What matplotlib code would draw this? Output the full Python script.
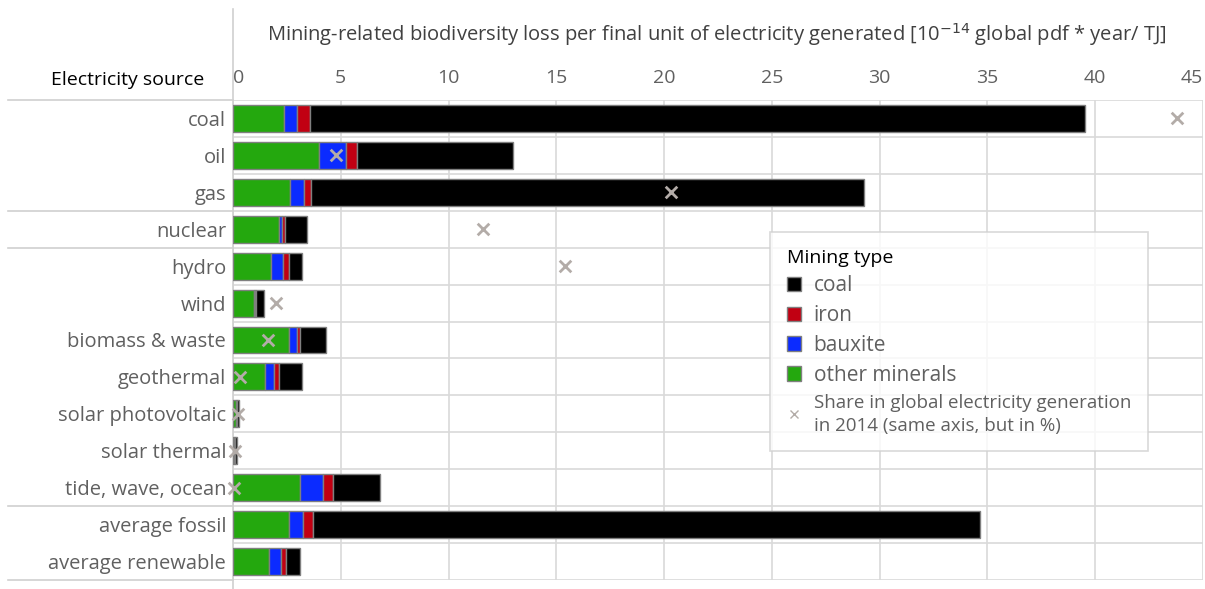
import matplotlib.pyplot as plt
import matplotlib.patches as mpatches
from matplotlib.lines import Line2D
import numpy as np

plt.rcParams['font.family'] = ['Open Sans', 'DejaVu Sans']

sources = ["coal", "oil", "gas", "nuclear", "hydro", "wind", "biomass & waste",
           "geothermal", "solar photovoltaic", "solar thermal", "tide, wave, ocean",
           "average fossil", "average renewable"]

# segment lengths [10^-14 global pdf * year / TJ]
other_minerals = [2.38, 4.00, 2.63, 2.15, 1.75, 0.99, 2.58, 1.50, 0.15, 0.05, 3.09, 2.58, 1.68]
bauxite = [0.60, 1.24, 0.65, 0.11, 0.58, 0.03, 0.39, 0.42, 0.02, 0.01, 1.10, 0.65, 0.56]
iron = [0.58, 0.51, 0.32, 0.15, 0.25, 0.06, 0.15, 0.23, 0.02, 0.01, 0.46, 0.47, 0.20]
coal_mining = [35.96, 7.22, 25.67, 1.04, 0.62, 0.37, 1.18, 1.05, 0.10, 0.10, 2.15, 30.95, 0.65]

# share in global electricity generation 2014 [%]
share = [43.8, 4.78, 20.3, 11.6, 15.4, 2.0, 1.62, 0.32, 0.25, 0.08, 0.05, np.nan, np.nan]

col_green = "#24a80e"
col_blue = "#0b2bff"
col_red = "#c10012"
col_black = "#000000"
col_x = "#b3aca8"
txt_gray = "#606060"

fig = plt.figure(figsize=(12.05, 5.89), dpi=100)
ax = fig.add_axes([233 / 1205, 1 - 580 / 589, 970 / 1205, 480 / 589])

y = np.arange(len(sources))
left = np.zeros(len(sources))
for vals, c in [(other_minerals, col_green), (bauxite, col_blue), (iron, col_red), (coal_mining, col_black)]:
    ax.barh(y, vals, left=left, height=0.73, color=c, edgecolor="#7f7f7f", linewidth=1, zorder=3)
    left += np.array(vals)

ax.scatter(share, y, marker="x", s=70, color=col_x, linewidths=2, zorder=4, clip_on=False)

ax.set_xlim(0, 45)
ax.set_ylim(12.5, -0.5)
ax.set_xticks(np.arange(0, 50, 5))
ax.xaxis.tick_top()
ax.tick_params(axis="x", length=0, pad=9, labelsize=14, labelcolor=txt_gray)
labels = ax.get_xticklabels()
labels[0].set_ha("left")
labels[-1].set_ha("right")
ax.set_yticks(y)
ax.set_yticklabels(sources, fontsize=14.5, color=txt_gray)
ax.tick_params(axis="y", length=0, pad=5)

for s in ax.spines.values():
    s.set_visible(False)
ax.grid(axis="x", color="#d9d9d9", linewidth=1.2, zorder=0)
for k in np.arange(-0.5, 13, 1):
    ax.axhline(k, color="#d9d9d9", linewidth=1.2, zorder=0)

# group separators reaching into the label column
tr = ax.get_yaxis_transform()
for k in [-0.5, 2.5, 3.5, 10.5, 12.5]:
    ax.plot([-0.232, 0], [k, k], transform=tr, color="#d0d0d0", linewidth=1.2, clip_on=False)
ax.plot([0, 0], [-0.03, 1.19], transform=ax.get_xaxis_transform(), color="#d0d0d0",
        linewidth=1.2, clip_on=False, zorder=2)

fig.text(204 / 1205, 1 - 80 / 589, "Electricity source", ha="right", va="center",
         fontsize=14, color="black")
fig.text(717 / 1205, 1 - 35 / 589,
         "Mining-related biodiversity loss per final unit of electricity generated [10$^{-14}$ global pdf * year/ TJ]",
         ha="center", va="center", fontsize=14.5, color="#404040")

handles = [mpatches.Patch(facecolor=col_black, edgecolor="#7f7f7f", label="coal"),
           mpatches.Patch(facecolor=col_red, edgecolor="#7f7f7f", label="iron"),
           mpatches.Patch(facecolor=col_blue, edgecolor="#7f7f7f", label="bauxite"),
           mpatches.Patch(facecolor=col_green, edgecolor="#7f7f7f", label="other minerals"),
           Line2D([], [], marker="x", linestyle="none", color=col_x, markersize=6,
                  label="Share in global electricity generation\nin 2014 (same axis, but in %)")]
leg = ax.legend(handles=handles, title="Mining type", loc="upper left",
                bbox_to_anchor=(770 / 1205, 1 - 232 / 589), bbox_transform=fig.transFigure,
                borderaxespad=0, fontsize=15, title_fontsize=14, frameon=True, fancybox=False,
                handlelength=0.7, handleheight=0.7, handletextpad=0.6, labelspacing=0.42,
                borderpad=0.8)
leg._legend_box.align = "left"
leg.get_frame().set_edgecolor("#d0d0d0")
leg.get_frame().set_linewidth(1.2)
for t in leg.get_texts():
    t.set_color(txt_gray)
leg.get_texts()[-1].set_fontsize(13.5)
leg.get_texts()[-1].set_linespacing(1.3)
leg.set_zorder(5)

fig.savefig("out.png", dpi=100)
